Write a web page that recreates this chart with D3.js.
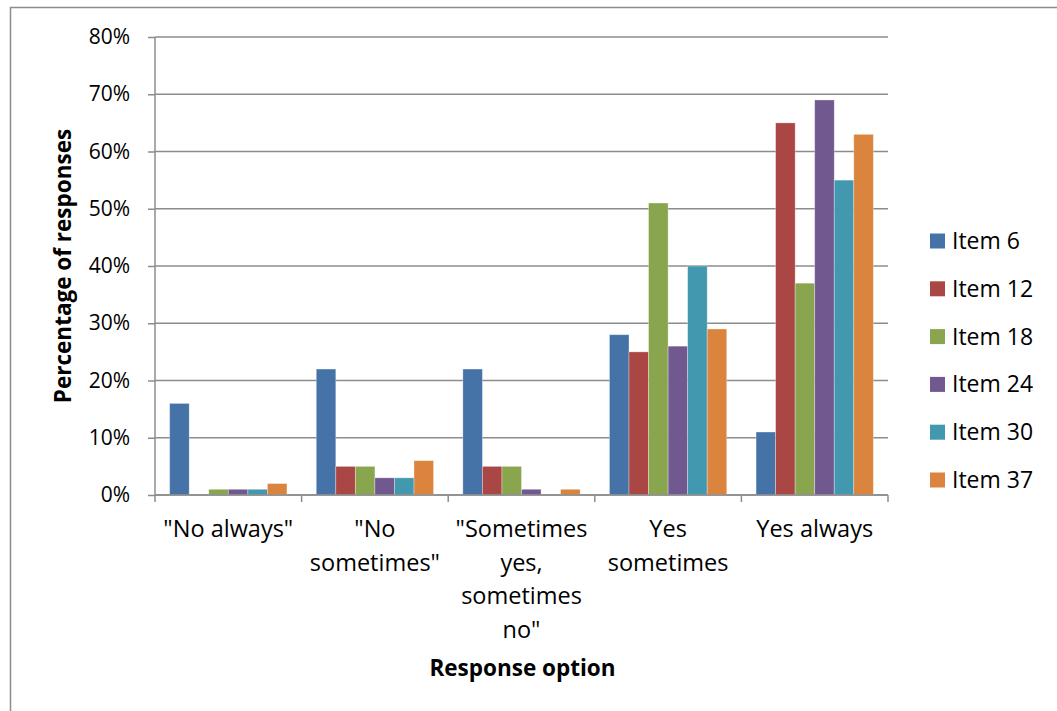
<!DOCTYPE html>
<html><head><meta charset="utf-8">
<script src="https://cdn.jsdelivr.net/npm/d3@7"></script>
<style>body{margin:0;background:#fff;} text{font-family:"Open Sans", sans-serif;}</style>
</head><body>
<script>
const categories = [["\"No always\""], ["\"No", "sometimes\""], ["\"Sometimes", "yes,", "sometimes", "no\""], ["Yes", "sometimes"], ["Yes always"]];
const seriesNames = ["Item 6", "Item 12", "Item 18", "Item 24", "Item 30", "Item 37"];
const item6  = [16, 22, 22, 28, 11];
const item12 = [0, 5, 5, 25, 65];
const item18 = [1, 5, 5, 51, 37];
const item24 = [1, 3, 1, 26, 69];
const item30 = [1, 3, 0, 40, 55];
const item37 = [2, 6, 1, 29, 63];
const seriesValues = [item6, item12, item18, item24, item30, item37];
const colors = ["#4572A7", "#AA4643", "#89A54E", "#71588F", "#4198AF", "#DB843D"];
const yTicks = [0, 10, 20, 30, 40, 50, 60, 70, 80];

const W = 1057, H = 711;
const FS = 21;
const svg = d3.select("body").append("svg").attr("width", W).attr("height", H);
svg.append("rect").attr("x", 10.5).attr("y", 7.5).attr("width", W + 10).attr("height", H + 10)
  .attr("fill", "#fff").attr("stroke", "#8c8c8c").attr("stroke-width", 1.5);

const L = 155, R = 888, T = 37, B = 495;
const catIdx = categories.map((d, i) => i);
const x0 = d3.scaleBand().domain(catIdx).range([L, R]).paddingInner(0).paddingOuter(0);
const gapFrac = 1.5 / (6 + 1.5);
const x1 = d3.scaleBand().domain(d3.range(6)).range([0, x0.bandwidth() * (1 - gapFrac)]);
const y = d3.scaleLinear().domain([0, 80]).range([B, T]);

// gridlines
svg.append("g").selectAll("line").data(yTicks).join("line")
  .attr("x1", L).attr("x2", R).attr("y1", d => y(d)).attr("y2", d => y(d))
  .attr("stroke", "#8c8c8c").attr("stroke-width", 1.5);

// y axis
const yAxis = d3.axisLeft(y).tickValues(yTicks).tickFormat(d => d + "%").tickSize(7).tickPadding(18);
const ya = svg.append("g").attr("transform", `translate(${L},0)`).call(yAxis);
ya.select(".domain").attr("stroke", "#8c8c8c").attr("stroke-width", 1.5).attr("d", `M0,${T}V${B}`);
ya.selectAll(".tick line").attr("stroke", "#8c8c8c").attr("stroke-width", 1.5);
ya.selectAll(".tick text").attr("font-size", FS).attr("fill", "#000").style("font-family", "Open Sans");

// bars
const groups = svg.append("g").selectAll("g").data(catIdx).join("g")
  .attr("transform", d => `translate(${x0(d) + x0.bandwidth() * gapFrac / 2},0)`);
groups.selectAll("rect").data(c => seriesValues.map((s, si) => ({si, v: s[c]}))).join("rect")
  .attr("x", d => x1(d.si)).attr("width", x1.bandwidth())
  .attr("y", d => y(d.v)).attr("height", d => B - y(d.v))
  .attr("fill", d => colors[d.si]).attr("stroke", "#fff").attr("stroke-opacity", 0.4).attr("stroke-width", 0.8);

// x axis
const xa = svg.append("g").attr("transform", `translate(0,${B})`);
xa.append("line").attr("x1", L).attr("x2", R).attr("stroke", "#8c8c8c").attr("stroke-width", 1.5);
const tickPos = catIdx.map(i => x0(i)).concat([R]);
xa.selectAll("line.t").data(tickPos).join("line").attr("class", "t")
  .attr("x1", d => d).attr("x2", d => d).attr("y1", 0).attr("y2", 7)
  .attr("stroke", "#8c8c8c").attr("stroke-width", 1.5);
const lab = xa.selectAll("text.c").data(catIdx).join("text").attr("class", "c")
  .attr("text-anchor", "middle").attr("font-size", 23.5).attr("fill", "#000");
lab.each(function(i) {
  const t = d3.select(this);
  categories[i].forEach((line, k) => {
    t.append("tspan").attr("x", x0(i) + x0.bandwidth() / 2).attr("y", 42 + k * 33.5).text(line);
  });
});

// axis titles
svg.append("text").attr("x", (L + R) / 2 + 1).attr("y", 676).attr("text-anchor", "middle")
  .attr("font-size", 22.5).attr("font-weight", "bold").text("Response option");
svg.append("text").attr("transform", `translate(71,${(T + B) / 2}) rotate(-90)`).attr("text-anchor", "middle")
  .attr("font-size", 22.5).attr("font-weight", "bold").text("Percentage of responses");

// legend
const lg = svg.append("g").selectAll("g").data(seriesNames).join("g")
  .attr("transform", (d, i) => `translate(930,${241 + i * 47.8})`);
lg.append("rect").attr("x", 0).attr("y", -7.5).attr("width", 15).attr("height", 15).attr("fill", (d, i) => colors[i]);
lg.append("text").attr("x", 22).attr("y", 8).attr("font-size", 23).attr("fill", "#000").text(d => d);
</script>
</body></html>
